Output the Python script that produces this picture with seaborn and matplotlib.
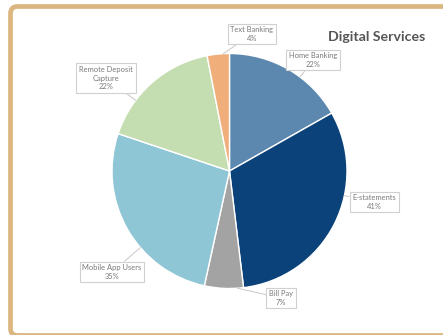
import numpy as np
import matplotlib
matplotlib.use("Agg")
import matplotlib.pyplot as plt
from matplotlib.patches import FancyBboxPatch
import seaborn as sns

# Service usage (share of members, %)
services = ["Home Banking", "E-statements", "Bill Pay", "Mobile App Users",
            "Remote Deposit\nCapture", "Text Banking"]
usage_pct = [22, 41, 7, 35, 22, 4]
slice_colors = ["#5C88AF", "#0B427A", "#A3A3A3", "#8FC6D6", "#C5DEB1", "#F0AE7B"]

# label box centres in figure pixels (x from left, y from top)
label_pos = [(313, 60), (374, 202), (281, 298), (112, 272), (106, 78), (252, 34)]

sns.set_theme(style="white")
plt.rcParams["font.family"] = ["Lato", "DejaVu Sans"]

W, H = 443, 335
fig = plt.figure(figsize=(W / 100, H / 100), dpi=100)
fig.patch.set_facecolor("white")

# rounded tan frame, running off the right-hand side
frame = FancyBboxPatch((0.105, -0.005), 6.0, 3.29,
                       boxstyle="round,pad=0,rounding_size=0.07",
                       transform=fig.dpi_scale_trans, fc="none",
                       ec="#DCB680", lw=3.4, clip_on=False)
fig.patches.append(frame)

cx, cy, r = 229.5, 171, 117.5
ax = fig.add_axes([(cx - r) / W, (H - cy - r) / H, 2 * r / W, 2 * r / H])
wedges, _ = ax.pie(usage_pct, colors=slice_colors, startangle=90,
                   counterclock=False, radius=1,
                   wedgeprops=dict(edgecolor="white", linewidth=1.0))
ax.set_xlim(-1, 1)
ax.set_ylim(-1, 1)
ax.axis("off")

for w, name, pct, (lx, ly) in zip(wedges, services, usage_pct, label_pos):
    # leader meets the rim at the point of the slice nearest the label
    mid = (w.theta1 + w.theta2) / 2
    ang = np.degrees(np.arctan2(cy - ly, lx - cx))
    ang = mid + ((ang - mid + 180) % 360 - 180)
    ang = np.clip(ang, w.theta1 + 3, w.theta2 - 3)
    t = np.deg2rad(ang)
    ax.annotate(f"{name}\n{pct}%", xy=(np.cos(t), np.sin(t)),
                xycoords="data", xytext=(lx / W, 1 - ly / H),
                textcoords="figure fraction", ha="center", va="center",
                fontsize=5.4, color="#7A7A7A", linespacing=1.25,
                bbox=dict(boxstyle="square,pad=0.35", fc="white",
                          ec="#D0D0D0", lw=0.8),
                arrowprops=dict(arrowstyle="-", color="#C8C8C8", lw=0.7,
                                shrinkA=0, shrinkB=0))

fig.text(376.5 / W, 1 - 37 / H, "Digital Services", ha="center", va="center",
         fontsize=10.2, fontweight="bold", color="#555555")

fig.savefig("out.png", dpi=100, facecolor="white")
